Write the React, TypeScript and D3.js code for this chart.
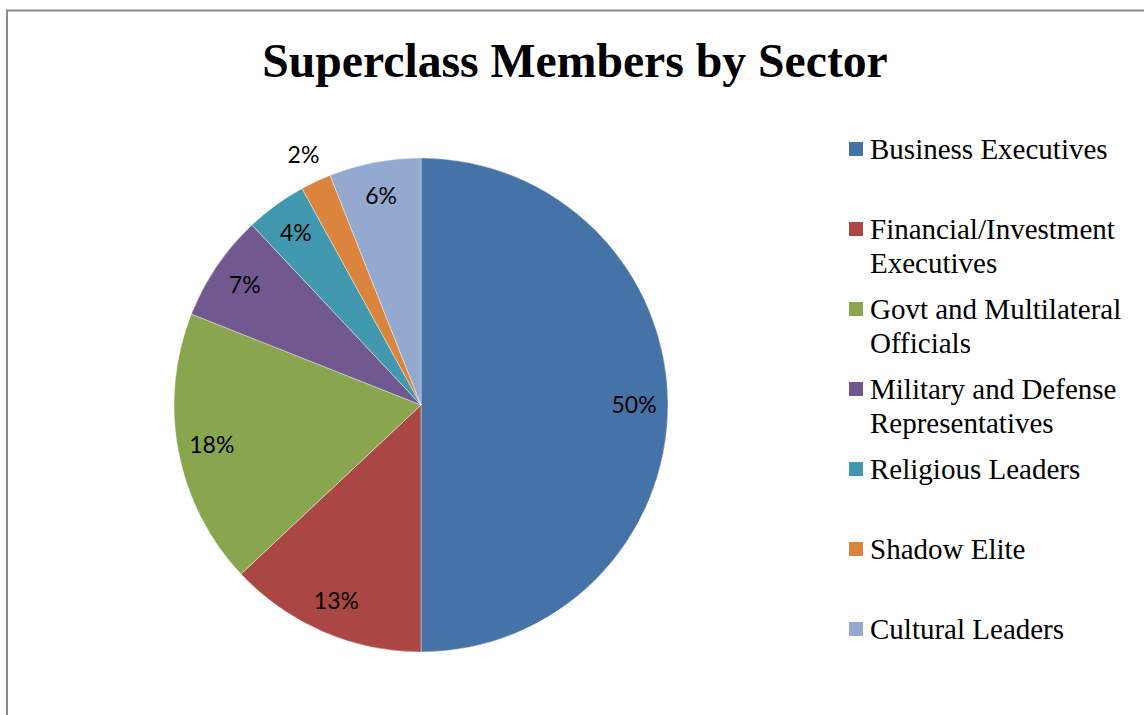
import React from "react";
import * as d3 from "d3";

const categories = [
  "Business Executives",
  "Financial/Investment Executives",
  "Govt and Multilateral Officials",
  "Military and Defense Representatives",
  "Religious Leaders",
  "Shadow Elite",
  "Cultural Leaders",
];
const legendLines = [
  ["Business Executives"],
  ["Financial/Investment", "Executives"],
  ["Govt and Multilateral", "Officials"],
  ["Military and Defense", "Representatives"],
  ["Religious Leaders"],
  ["Shadow Elite"],
  ["Cultural Leaders"],
];
const values = [50, 13, 18, 7, 4, 2, 6];
const colors = ["#4572A7", "#AA4643", "#89A54E", "#71588F", "#4198AF", "#DB843D", "#93A9CF"];
const outsideLabel = [false, false, false, false, false, true, false];

export default function App() {
  const W = 1144, H = 715;
  const cx = 421, cy = 405, r = 247;
  const total = d3.sum(values);
  const pie = d3.pie<number>().sort(null).value((d) => d);
  const arcs = pie(values);
  const arc = d3.arc<d3.PieArcDatum<number>>().innerRadius(0).outerRadius(r);
  const labelArcIn = d3.arc<d3.PieArcDatum<number>>().innerRadius(213).outerRadius(213);
  const labelArcOut = d3.arc<d3.PieArcDatum<number>>().innerRadius(276).outerRadius(276);
  const color = d3.scaleOrdinal<string, string>().domain(categories).range(colors);

  return (
    <svg width={W} height={H} style={{ position: "absolute", left: 0, top: 0 }}>
      <rect x={0} y={0} width={W} height={H} fill="#fff" />
      <rect x={7} y={10.5} width={1160} height={720} fill="none" stroke="#898989" strokeWidth={2} />
      <text x={575} y={77} textAnchor="middle" fontFamily="'Liberation Serif', 'Times New Roman', serif" fontWeight="bold" fontSize={47.7} fill="#000">
        Superclass Members by Sector
      </text>
      <g transform={`translate(${cx},${cy})`}>
        {arcs.map((a, i) => (
          <path key={i} d={arc(a) || ""} fill={color(categories[i])} stroke="#fff" strokeWidth={0.4} />
        ))}
        {arcs.map((a, i) => {
          const [lx, ly] = (outsideLabel[i] ? labelArcOut : labelArcIn).centroid(a);
          return (
            <text key={"l" + i} x={lx} y={ly} dy="0.35em" textAnchor="middle" fontFamily="Lato, 'Noto Sans', sans-serif" fontSize={23} fill="#000">
              {Math.round((values[i] / total) * 100)}%
            </text>
          );
        })}
      </g>
      {legendLines.map((lines, i) => {
        const by = 159 + 80 * i;
        return (
          <g key={"g" + i}>
            <rect x={849} y={by - 17} width={14} height={14} fill={color(categories[i])} />
            {lines.map((t, j) => (
              <text key={j} x={870} y={by + 34 * j} fontFamily="'Liberation Serif', 'Times New Roman', serif" fontSize={29} fill="#000">
                {t}
              </text>
            ))}
          </g>
        );
      })}
    </svg>
  );
}
